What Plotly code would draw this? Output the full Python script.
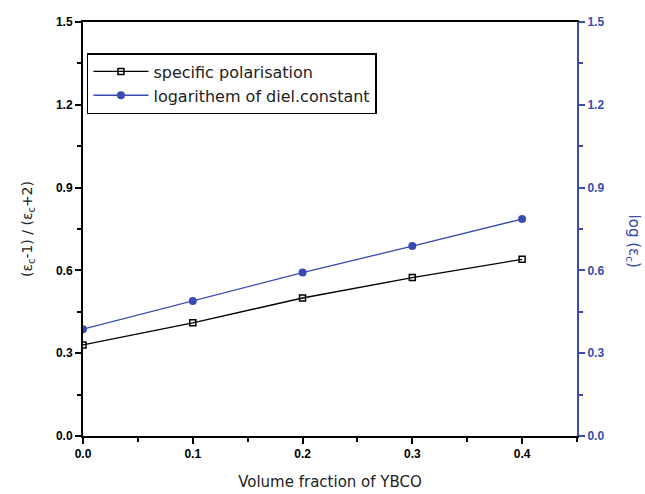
import plotly.graph_objects as go

x_vals = [0.0, 0.1, 0.2, 0.3, 0.4]
spec_pol = [0.33, 0.41, 0.50, 0.574, 0.64]
log_diel = [0.387, 0.489, 0.592, 0.688, 0.786]

y_ticks = [0.0, 0.3, 0.6, 0.9, 1.2, 1.5]
y_ticklabels = ["0.0", "0.3", "0.6", "0.9", "1.2", "1.5"]
x_ticks = [0.0, 0.1, 0.2, 0.3, 0.4]
x_ticklabels = ["0.0", "0.1", "0.2", "0.3", "0.4"]

BLUE = "#3a4bb0"
FONT = "Liberation Sans"
TFONT = "DejaVu Sans"

fig = go.Figure()
fig.add_trace(go.Scatter(
    x=x_vals, y=spec_pol, mode="lines+markers", name="specific polarisation",
    line=dict(color="black", width=1.3),
    marker=dict(symbol="square-open", size=6, color="black", line=dict(width=1.5)),
))
fig.add_trace(go.Scatter(
    x=x_vals, y=log_diel, mode="lines+markers", name="logarithem of diel.constant",
    line=dict(color=BLUE, width=1.3),
    marker=dict(symbol="circle", size=8, color=BLUE),
    yaxis="y2",
))

fig.update_layout(
    width=645, height=494,
    margin=dict(l=83, r=68, t=22, b=58, autoexpand=False),
    plot_bgcolor="white", paper_bgcolor="white",
    font=dict(family=FONT, size=12, color="black"),
    showlegend=True,
    legend=dict(
        x=0.008, y=0.925, xanchor="left", yanchor="top",
        bgcolor="white", bordercolor="black", borderwidth=1.5,
        font=dict(family=TFONT, size=16, color="#222"),
        tracegroupgap=0, itemwidth=55,
    ),
    xaxis=dict(
        range=[0, 0.45], tickvals=x_ticks, ticktext=x_ticklabels,
        showgrid=False, zeroline=False, automargin=False,
        showline=True, linecolor="black", linewidth=2, mirror=True,
        ticks="outside", ticklen=6, tickwidth=1.5, tickcolor="black",
        minor=dict(dtick=0.05, ticks="outside", ticklen=4, tickwidth=1.5, tickcolor="black"),
        tickfont=dict(family=FONT, size=12, color="black", weight="bold"),
        title=dict(text="Volume fraction of YBCO", font=dict(family=TFONT, size=15, color="#222"), standoff=16),
    ),
    yaxis=dict(
        range=[0, 1.5], tickvals=y_ticks, ticktext=y_ticklabels,
        showgrid=False, zeroline=False, automargin=False,
        showline=True, linecolor="black", linewidth=2,
        ticks="outside", ticklen=6, tickwidth=1.5, tickcolor="black",
        minor=dict(dtick=0.15, ticks="outside", ticklen=4, tickwidth=1.5, tickcolor="black"),
        tickfont=dict(family=FONT, size=12, color="black", weight="bold"),
        title=dict(text="(ε<sub>c</sub>-1) / (ε<sub>c</sub>+2)", font=dict(family=TFONT, size=14, color="#222"), standoff=20),
    ),
    yaxis2=dict(
        range=[0, 1.5], tickvals=y_ticks, ticktext=y_ticklabels,
        overlaying="y", side="right", automargin=False,
        showgrid=False, zeroline=False,
        showline=True, linecolor=BLUE, linewidth=2,
        ticks="outside", ticklen=6, tickwidth=1.5, tickcolor=BLUE,
        minor=dict(dtick=0.15, ticks="outside", ticklen=4, tickwidth=1.5, tickcolor=BLUE),
        tickfont=dict(family=FONT, size=12, color=BLUE, weight="bold"),
    ),
    annotations=[dict(
        text="log (ε<sub>c</sub>)", xref="paper", yref="paper",
        x=1.115, y=0.47, xanchor="center", yanchor="middle",
        textangle=90, showarrow=False,
        font=dict(family=TFONT, size=15, color=BLUE),
    )],
)

fig.write_html("out.html")
